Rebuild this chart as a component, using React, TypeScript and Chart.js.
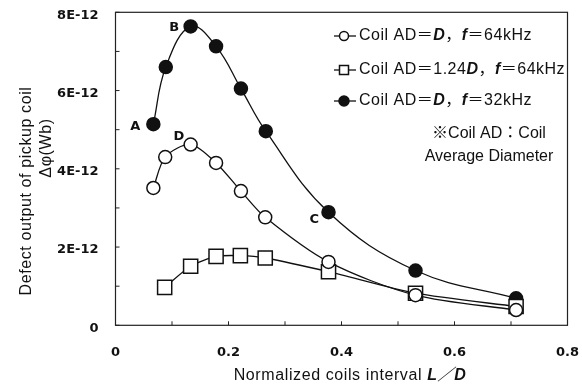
import React, { useEffect, useRef } from "react";
import { Chart, registerables } from "chart.js";

Chart.register(...registerables);

// x: normalized coils interval L/D ; y: defect output in units of 1E-12 Wb
const xOpen = [0.067, 0.088, 0.133, 0.178, 0.222, 0.265, 0.377, 0.531, 0.709];
const yOpen = [3.51, 4.3, 4.62, 4.15, 3.43, 2.76, 1.62, 0.77, 0.39];

const xSquare = [0.087, 0.133, 0.178, 0.221, 0.265, 0.377, 0.531, 0.709];
const ySquare = [0.97, 1.51, 1.76, 1.78, 1.72, 1.37, 0.82, 0.48];

const xFilled = [0.067, 0.089, 0.133, 0.178, 0.222, 0.266, 0.377, 0.531, 0.709];
const yFilled = [5.14, 6.6, 7.64, 7.13, 6.05, 4.96, 2.89, 1.4, 0.69];

const xTicks = [0, 0.2, 0.4, 0.6, 0.8];
const yTicks = [0, 2, 4, 6, 8];

const pointNotes = [
  { text: "A", x: 0.035, y: 5.08 },
  { text: "B", x: 0.104, y: 7.6 },
  { text: "C", x: 0.352, y: 2.7 },
  { text: "D", x: 0.112, y: 4.83 },
];

const legendItems = [
  { style: "open", parts: [["Coil AD＝", "n"], ["D", "b"], ["，", "n"], ["f", "b"], ["＝64kHz", "n"]] },
  { style: "square", parts: [["Coil AD＝1.24", "n"], ["D", "b"], ["，", "n"], ["f", "b"], ["＝64kHz", "n"]] },
  { style: "filled", parts: [["Coil AD＝", "n"], ["D", "b"], ["，", "n"], ["f", "b"], ["＝32kHz", "n"]] },
];
const noteLines = ["※Coil AD：Coil", "Average Diameter"];
const yTitle = ["Defect output of pickup coil", "Δφ(Wb)"];

const FONT = "'Liberation Sans', Arial, 'Noto Sans CJK JP', sans-serif";
const TICK_FONT = "'DejaVu Sans', sans-serif";

function pts(xs: number[], ys: number[]) {
  return xs.map((x, i) => ({ x, y: ys[i] }));
}

function drawMarker(ctx: CanvasRenderingContext2D, style: string, x: number, y: number, r: number) {
  ctx.save();
  ctx.lineWidth = 1.5;
  ctx.strokeStyle = "#111";
  ctx.beginPath();
  if (style === "square") {
    ctx.rect(x - r, y - r, 2 * r, 2 * r);
    ctx.fillStyle = "#fff";
  } else {
    ctx.arc(x, y, r, 0, Math.PI * 2);
    ctx.fillStyle = style === "filled" ? "#111" : "#fff";
  }
  ctx.fill();
  ctx.stroke();
  ctx.restore();
}

function mixedText(ctx: any, parts: [string, string][], x: number, y: number, size: number) {
  ctx.textAlign = "left";
  parts.forEach(([t, s]) => {
    ctx.font = s === "b" ? `italic bold ${size}px ${FONT}` : `${size}px ${FONT}`;
    ctx.fillText(t, x, y);
    x += ctx.measureText(t).width;
  });
}

const decor = {
  id: "decor",
  beforeDatasetsDraw(chart: any) {
    const { ctx, chartArea: a, scales } = chart;
    ctx.save();
    ctx.strokeStyle = "#222";
    ctx.lineWidth = 1.2;
    ctx.strokeRect(a.left, a.top, a.right - a.left, a.bottom - a.top);
    ctx.lineWidth = 1;
    for (let v = 0; v <= 8; v += 1) {
      const y = scales.y.getPixelForValue(v);
      ctx.beginPath();
      ctx.moveTo(a.left, y);
      ctx.lineTo(a.left + 4, y);
      ctx.stroke();
    }
    for (let i = 0; i <= 8; i++) {
      const x = scales.x.getPixelForValue(i / 10);
      ctx.beginPath();
      ctx.moveTo(x, a.bottom);
      ctx.lineTo(x, a.bottom - 4);
      ctx.stroke();
    }
    ctx.restore();
  },
  afterDraw(chart: any) {
    const { ctx, scales } = chart;
    ctx.save();
    ctx.fillStyle = "#111";
    // point notes
    ctx.font = `bold 13px ${TICK_FONT}`;
    ctx.textAlign = "center";
    ctx.textBaseline = "middle";
    pointNotes.forEach((n) => {
      ctx.fillText(n.text, scales.x.getPixelForValue(n.x), scales.y.getPixelForValue(n.y));
    });

    // legend
    const rows = [28, 62, 93];
    const lx0 = 326;
    (ctx as any).letterSpacing = "0.5px";
    legendItems.forEach((it, i) => {
      const y = rows[i];
      ctx.strokeStyle = "#111";
      ctx.lineWidth = 1.3;
      ctx.beginPath();
      ctx.moveTo(lx0, y);
      ctx.lineTo(lx0 + 22, y);
      ctx.stroke();
      drawMarker(ctx, it.style, lx0 + 10, y, it.style === "filled" ? 5 : 4.5);
      ctx.textBaseline = "middle";
      mixedText(ctx, it.parts as [string, string][], lx0 + 25, y, 16);
    });
    (ctx as any).letterSpacing = "0px";
    ctx.font = `16px ${FONT}`;
    ctx.textAlign = "center";
    ctx.fillText(noteLines[0], 481, 126);
    ctx.fillText(noteLines[1], 481, 149);

    // y title
    ctx.font = `16px ${FONT}`;
    (ctx as any).letterSpacing = "0.6px";
    ctx.save();
    ctx.translate(19, 183);
    ctx.rotate(-Math.PI / 2);
    ctx.fillText(yTitle[0], 0, 0);
    ctx.restore();
    ctx.save();
    ctx.translate(39, 140);
    ctx.rotate(-Math.PI / 2);
    ctx.fillText(yTitle[1], 0, 0);
    ctx.restore();

    // x title
    const parts: [string, string][] = [["Normalized coils interval ", "n"], ["L／D", "b"]];
    let total = 0;
    parts.forEach(([t, s]) => {
      ctx.font = s === "b" ? `italic bold 16px ${FONT}` : `16px ${FONT}`;
      total += ctx.measureText(t).width;
    });
    mixedText(ctx, parts, 342 - total / 2, 368, 16);
    (ctx as any).letterSpacing = "0px";
    ctx.restore();
  },
};

function noPad(s: any) {
  s.paddingTop = 0;
  s.paddingBottom = 0;
  s.paddingLeft = 0;
  s.paddingRight = 0;
}

export default function App() {
  const ref = useRef<HTMLCanvasElement>(null);
  useEffect(() => {
    if (!ref.current) return;
    const common = {
      borderColor: "#111",
      borderWidth: 1.3,
      pointBorderColor: "#111",
      pointBorderWidth: 1.5,
      pointHoverRadius: 0,
      showLine: true,
    };
    const chart = new Chart(ref.current, {
      type: "scatter",
      data: {
        datasets: [
          { ...common, label: "open", data: pts(xOpen, yOpen), pointStyle: "circle", pointRadius: 6.5, pointBackgroundColor: "#fff", tension: 0.3 },
          { ...common, label: "square", data: pts(xSquare, ySquare), pointStyle: "rect", pointRadius: 10, pointBackgroundColor: "#fff", tension: 0.25 },
          { ...common, label: "filled", data: pts(xFilled, yFilled), pointStyle: "circle", pointRadius: 6.5, pointBackgroundColor: "#111", tension: 0.4 },
        ],
      },
      options: {
        animation: false,
        responsive: true,
        maintainAspectRatio: false,
        layout: { autoPadding: false, padding: { top: 4.3, right: 14.5, left: 0, bottom: 0 } },
        plugins: { legend: { display: false }, tooltip: { enabled: false } },
        scales: {
          x: {
            type: "linear",
            min: 0,
            max: 0.8,
            afterBuildTicks: (s: any) => { s.ticks = xTicks.map((v) => ({ value: v })); },
            afterFit: (s: any) => { s.height = 59.7; noPad(s); },
            grid: { display: false },
            border: { display: false },
            ticks: {
              padding: 12,
              maxRotation: 0,
              color: "#111",
              font: { family: TICK_FONT, weight: "bold", size: 13 },
              callback: (v: any) => (v === 0 ? "0" : Number(v).toFixed(1)),
            },
          },
          y: {
            type: "linear",
            min: 0,
            max: 8,
            afterBuildTicks: (s: any) => { s.ticks = yTicks.map((v) => ({ value: v })); },
            afterFit: (s: any) => { s.width = 107.5; noPad(s); },
            grid: { display: false },
            border: { display: false },
            ticks: {
              padding: 9,
              labelOffset: 3,
              color: "#111",
              font: { family: TICK_FONT, weight: "bold", size: 13 },
              callback: (v: any) => (v === 0 ? "0" : `${v}E-12`),
            },
          },
        },
      },
      plugins: [decor],
    });
    return () => chart.destroy();
  }, []);
  return (
    <div style={{ position: "fixed", left: 8, top: 8, width: 574, height: 377 }}>
      <canvas ref={ref} />
    </div>
  );
}
